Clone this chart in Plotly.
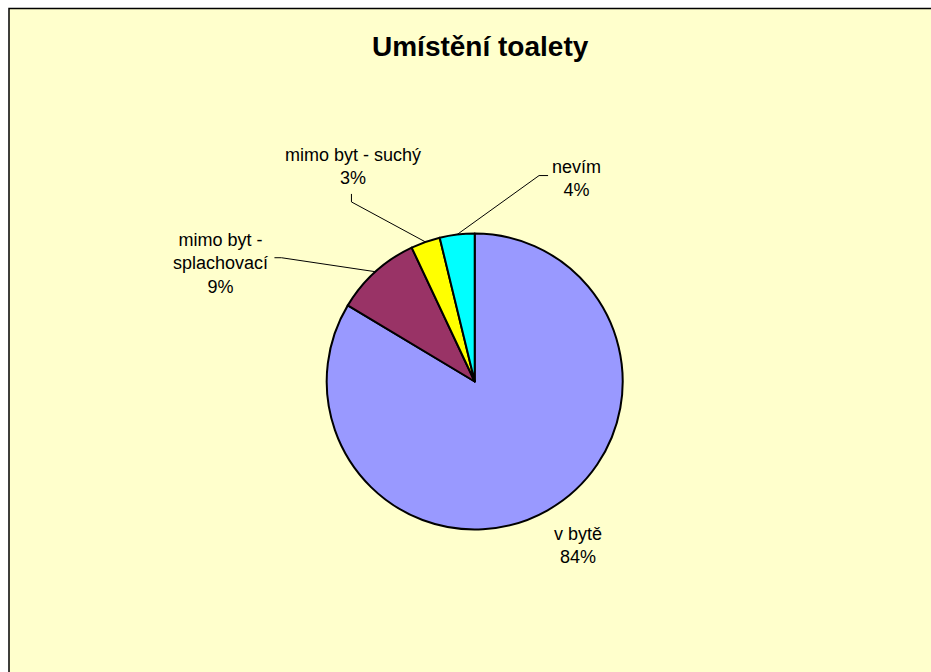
import math
import plotly.graph_objects as go

# ---- data ----
title_text = "Umístění toalety"
categories = ["v bytě", "mimo byt - splachovací", "mimo byt - suchý", "nevím"]
label_texts = ["v bytě", "mimo byt -<br>splachovací", "mimo byt - suchý", "nevím"]
values = [83.6, 9.4, 3.2, 3.8]
colors = ["#9999FF", "#993366", "#FFFF00", "#00FFFF"]

# ---- layout params (pixels) ----
W, H = 931, 672
CX, CY, R = 474.7, 381.5, 148.0
# text centre offset from slice edge point, and leader stub points relative to text centre
text_offsets = [(30, 35), (-155, -8), (-72, -75), (119, -56)]
stubs = [None, [(54, -6), (61, -6)], [(-2, 27), (-2, 35)], [(-28, -3), (-37, -3)]]

def px(x, y):
    return x / W, 1 - y / H

total = sum(values)
pct = [round(v / total * 100) for v in values]

fig = go.Figure()
fig.add_trace(go.Pie(
    labels=categories, values=values, sort=False, direction="clockwise",
    rotation=0, textinfo="none", hoverinfo="label+percent",
    marker=dict(colors=colors, line=dict(color="black", width=2)),
    domain=dict(x=[(CX - R) / W, (CX + R) / W], y=[1 - (CY + R) / H, 1 - (CY - R) / H]),
    showlegend=False,
))

shapes = [dict(type="rect", xref="paper", yref="paper", layer="below",
               x0=9 / W, y0=-0.02, x1=1.02, y1=1 - 8.5 / H,
               fillcolor="#FFFFCC", line=dict(color="black", width=1.5))]
annotations = [dict(text="<b>" + title_text + "</b>", xref="paper", yref="paper",
                    x=480 / W, y=1 - 47 / H, xanchor="center", yanchor="middle",
                    showarrow=False, font=dict(family="Liberation Sans", size=28, color="black"))]

cum = 0.0
for i, v in enumerate(values):
    mid = (cum + v / 2) / total * 2 * math.pi
    cum += v
    ex = CX + R * math.sin(mid)
    ey = CY - R * math.cos(mid)
    tx = ex + text_offsets[i][0]
    ty = ey + text_offsets[i][1]
    x, y = px(tx, ty)
    annotations.append(dict(text=f"{label_texts[i]}<br>{pct[i]}%", xref="paper", yref="paper",
                            x=x, y=y, xanchor="center", yanchor="middle", align="center",
                            showarrow=False,
                            font=dict(family="Liberation Sans", size=18, color="black")))
    if stubs[i]:
        pts = [(tx + a, ty + b) for a, b in stubs[i]] + [(ex, ey)]
        path = "M " + " L ".join(f"{px(a, b)[0]},{px(a, b)[1]}" for a, b in pts)
        shapes.append(dict(type="path", xref="paper", yref="paper", path=path,
                           line=dict(color="black", width=1)))

fig.update_layout(width=W, height=H, margin=dict(l=0, r=0, t=0, b=0),
                  paper_bgcolor="white", plot_bgcolor="white",
                  shapes=shapes, annotations=annotations)
fig.write_html("out.html", config={"displayModeBar": False},
               post_script="document.body.style.margin='0';document.body.style.overflow='hidden';")
